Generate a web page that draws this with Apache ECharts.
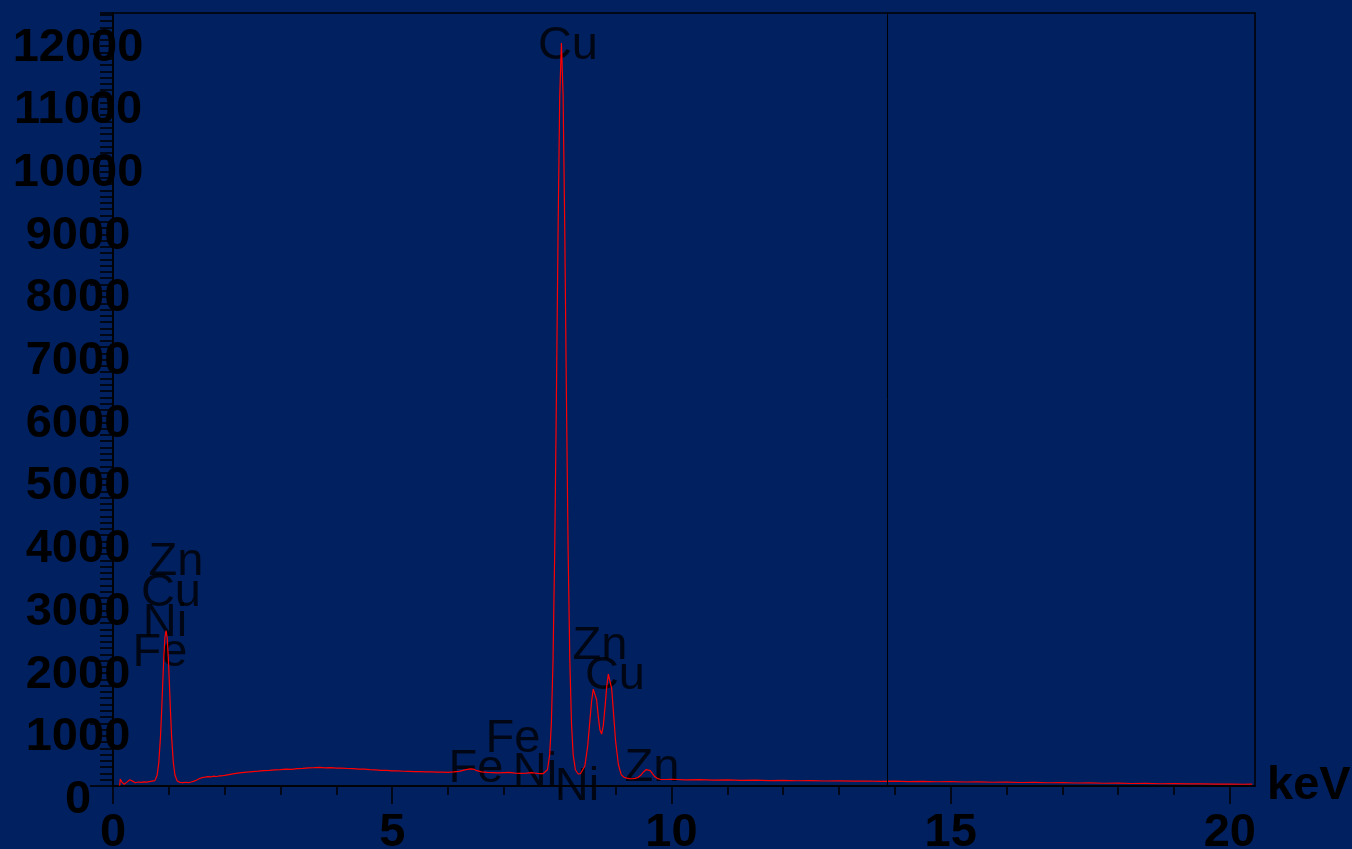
<!DOCTYPE html>
<html>
<head>
<meta charset="utf-8">
<script src="https://cdn.jsdelivr.net/npm/echarts@6/dist/echarts.min.js"></script>
<style>
html,body{margin:0;padding:0;background:#002060;}
#chart{width:1352px;height:849px;}
</style>
</head>
<body>
<div id="chart"></div>
<script>
// Spectrum: energy (keV) and counts
const energyKeV = [
0.12,0.13,0.16,0.20,0.25,0.30,0.35,0.40,0.45,0.50,0.55,0.60,0.65,0.70,0.75,0.79,0.82,0.85,0.87,0.89,
0.91,0.93,0.95,0.97,0.99,1.01,1.03,1.05,1.08,1.11,1.15,1.20,1.25,1.30,1.35,1.40,1.45,1.50,1.55,1.60,
1.65,1.70,1.75,1.80,1.85,1.90,1.95,2.00,2.10,2.20,2.30,2.40,2.50,2.60,2.70,2.80,2.90,3.00,3.10,3.20,
3.30,3.40,3.50,3.60,3.70,3.80,3.90,4.00,4.10,4.20,4.30,4.40,4.50,4.60,4.70,4.80,4.90,5.00,5.10,5.20,
5.30,5.40,5.50,5.60,5.70,5.80,5.90,6.00,6.10,6.20,6.30,6.40,6.45,6.50,6.60,6.70,6.80,6.90,7.00,7.10,
7.20,7.30,7.40,7.50,7.55,7.60,7.65,7.70,7.73,7.78,7.82,7.85,7.88,7.91,7.94,7.97,8.00,8.03,8.06,8.09,
8.12,8.15,8.18,8.21,8.24,8.28,8.33,8.37,8.40,8.45,8.50,8.54,8.57,8.60,8.63,8.66,8.69,8.72,8.75,8.78,
8.81,8.84,8.87,8.90,8.93,8.96,9.00,9.05,9.10,9.15,9.20,9.25,9.30,9.35,9.40,9.45,9.50,9.55,9.58,9.62,
9.66,9.70,9.75,9.80,9.90,10.00,10.25,10.50,10.75,11.00,11.25,11.50,11.75,12.00,12.25,12.50,12.75,13.00,13.25,13.50,
13.75,14.00,14.25,14.50,14.75,15.00,15.25,15.50,15.75,16.00,16.25,16.50,16.75,17.00,17.25,17.50,17.75,18.00,18.25,18.50,
18.75,19.00,19.25,19.50,19.75,20.00,20.25,20.40
];
const counts = [
5,110,62,28,62,100,78,52,64,58,66,61,70,78,86,171,373,779,1174,1626,
2057,2369,2480,2369,2057,1626,1174,779,373,171,80,58,54,60,55,64,78,96,120,134,
143,150,146,156,151,160,163,170,186,200,212,220,228,236,245,250,257,262,268,266,
276,281,290,292,297,289,293,286,284,279,277,270,268,260,257,250,248,242,241,235,
234,229,230,225,226,221,222,218,224,234,256,274,270,250,226,216,214,208,212,216,
205,202,206,214,207,200,198,196,200,259,501,1003,2019,3755,6178,8858,11013,11850,11013,8858,
6178,3755,2019,1003,501,259,192,196,208,319,636,1045,1352,1546,1551,1375,1111,892,829,963,
1250,1573,1785,1780,1554,1194,715,343,182,140,126,118,116,121,136,170,224,262,270,246,
196,150,118,107,104,108,98,102,94,97,90,93,86,90,84,87,80,83,78,80,
74,77,70,73,68,70,64,66,60,62,56,58,52,55,48,50,44,46,40,42,
36,38,33,35,30,32,28,30
];

// Element annotations (text, keV, counts at label centre)
const peakLabels = ['Zn','Cu','Ni','Fe','Cu','Zn','Cu','Fe','Fe','Ni','Ni','Zn'];
const peakLabelKeV = [1.128,1.038,0.931,0.842,8.147,8.720,8.988,7.162,6.500,7.556,8.308,9.651];
const peakLabelCounts = [3644,3134,2656,2177,11874,2289,1810,813,327,279,40,343];

// Axes
const xMin = 0, xMax = 20.45;
const yMin = 0, yMax = 12330;
const xTickLabels = [0,5,10,15,20];
const xMinorTicks = [1,2,3,4,6,7,8,9,11,12,13,14,16,17,18,19];
const yTickLabels = [0,1000,2000,3000,4000,5000,6000,7000,8000,9000,10000,11000,12000];
const yMinorStep = 100;
const cursorKeV = 13.86;
const axisName = 'keV';

const yMinorTicks = [];
for (let v = yMin; v <= yMax; v += yMinorStep) yMinorTicks.push(v);
yMinorTicks.push(yMax);

const spectrum = energyKeV.map((e, i) => [e, counts[i]]);
const labelData = peakLabels.map((t, i) => [peakLabelKeV[i], peakLabelCounts[i], t]);

const black = '#000000';
const chart = echarts.init(document.getElementById('chart'));
chart.setOption({
  animation: false,
  backgroundColor: '#002060',
  grid: { left: 113, top: 13, right: 97, bottom: 63, show: true, borderColor: black, borderWidth: 1.5, containLabel: false, outerBoundsMode: 'none' },
  xAxis: [
    {
      type: 'value', min: xMin, max: xMax, position: 'bottom',
      axisLine: { show: true, lineStyle: { color: black, width: 1.5 } },
      axisTick: { show: true, customValues: xMinorTicks, length: 9, lineStyle: { color: black, width: 1.5 } },
      axisLabel: { show: false },
      splitLine: { show: false },
      name: axisName, nameLocation: 'end', nameGap: 12,
      nameTextStyle: { color: black, fontSize: 47, fontWeight: 'bold', fontFamily: 'Liberation Sans', verticalAlign: 'middle' }
    },
    {
      type: 'value', min: xMin, max: xMax, position: 'bottom',
      axisLine: { show: false },
      axisTick: { show: true, customValues: xTickLabels, length: 18, lineStyle: { color: black, width: 1.5 } },
      axisLabel: { show: true, customValues: xTickLabels, formatter: v => String(v), color: black, fontSize: 47, fontWeight: 'bold', fontFamily: 'Liberation Sans', margin: 24 },
      splitLine: { show: false }
    }
  ],
  yAxis: [
    {
      type: 'value', min: yMin, max: yMax, position: 'left',
      axisLine: { show: true, lineStyle: { color: black, width: 1.5 } },
      axisTick: { show: true, customValues: yMinorTicks, length: 13, lineStyle: { color: black, width: 1.5 } },
      axisLabel: { show: false },
      splitLine: { show: false }
    },
    {
      type: 'value', min: yMin, max: yMax, position: 'left',
      axisLine: { show: false },
      axisTick: { show: true, customValues: yTickLabels, length: 23, lineStyle: { color: black, width: 1.5 } },
      axisLabel: { show: true, customValues: yTickLabels, formatter: v => String(v), color: black, fontSize: 47, fontWeight: 'bold', fontFamily: 'Liberation Sans', align: 'center', verticalAlign: 'top', lineHeight: 28, margin: 35 },
      splitLine: { show: false }
    }
  ],
  series: [
    {
      type: 'line', xAxisIndex: 0, yAxisIndex: 0, data: spectrum,
      showSymbol: false, symbol: 'none',
      lineStyle: { color: '#ff0000', width: 1.2 },
      markLine: {
        silent: true, symbol: 'none', label: { show: false },
        lineStyle: { color: black, width: 1, type: 'solid' },
        data: [{ xAxis: cursorKeV }]
      }
    },
    {
      type: 'scatter', xAxisIndex: 0, yAxisIndex: 0, data: labelData,
      symbolSize: 1, itemStyle: { color: 'rgba(0,0,0,0)' },
      label: {
        show: true, position: 'inside', offset: [0, 4], formatter: p => p.value[2],
        color: black, fontSize: 47, fontFamily: 'Liberation Sans', fontWeight: 'normal'
      }
    }
  ]
});
</script>
</body>
</html>
